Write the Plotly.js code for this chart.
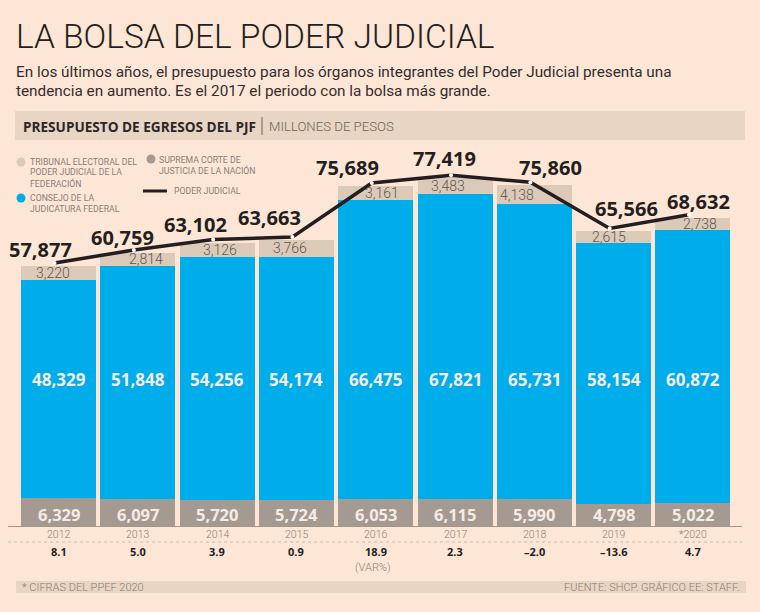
<!DOCTYPE html>
<html><head><meta charset="utf-8">
<script src="https://cdn.plot.ly/plotly-3.0.1.min.js"></script>
<style>html,body{margin:0;padding:0;background:#fde6d6;}</style>
</head><body><div id="chart" style="width:760px;height:612px;"></div>
<script>
// ---------- DATA ----------
const years = ['2012','2013','2014','2015','2016','2017','2018','2019','*2020'];
const suprema = [6329,6097,5720,5724,6053,6115,5990,4798,5022];
const consejo = [48329,51848,54256,54174,66475,67821,65731,58154,60872];
const tribunal = [3220,2814,3126,3766,3161,3483,4138,2615,2738];
const total = [57877,60759,63102,63663,75689,77419,75860,65566,68632];
const variacion = ['8.1','5.0','3.9','0.9','18.9','2.3','–2.0','–13.6','4.7'];

// ---------- STYLE / LAYOUT ----------
const BG='#fde6d6', BAND='#e8d5c3', BLUE='#00adeb', GRAY='#a59a91', BEIGE='#dccab9', DARK='#231f20', MUTED='#8a7f78';
const LIGHT='Roboto, sans-serif';
const NUM='Open Sans, sans-serif';
const W=760,H=612,ML=8,MR=18,MT=150,MB=86, PW=W-ML-MR, PH=H-MT-MB;
const fx=x=>(x-ML)/PW, fy=y=>(H-MB-y)/PH;
const YMAX=83700, XR=[-0.637,8.619];
const lineDy=668, lineDx=0.05;
const totalShiftX=[-18,-15,-22,-27,-28,-11,16,13,6];
const totalShiftY=[17,16,18,23,18,20,18,23,16];
const beigeShiftX=[-6,8,3,-6,6,-7,-17,-5,7];
const blueLabelY=32700, grayLabelY=2600;

const traces=[
 {type:'bar',x:years,y:suprema,marker:{color:GRAY,line:{width:0}},hoverinfo:'skip'},
 {type:'bar',x:years,y:consejo,marker:{color:BLUE,line:{width:0}},hoverinfo:'skip'},
 {type:'bar',x:years,y:tribunal,marker:{color:BEIGE,line:{width:0}},hoverinfo:'skip'},
 {type:'scatter',mode:'lines+markers',x:years,y:total,xaxis:'x2',yaxis:'y2',
  line:{color:DARK,width:3.5},marker:{color:'#ffffff',size:4,line:{width:0}},hoverinfo:'skip'}
];

function txt(x,y,text,size,color,opts){
  return Object.assign({xref:'paper',yref:'paper',x:fx(x),y:fy(y),text:text,showarrow:false,
    xanchor:'left',yanchor:'middle',font:{family:LIGHT,size:size,color:color}},opts||{});
}
const ann=[];
ann.push(txt(14,36,'LA BOLSA DEL PODER JUDICIAL',33.5,DARK,{font:{family:LIGHT,size:33.5,color:DARK,weight:300}}));
ann.push(txt(14,72,'En los últimos años, el presupuesto para los órganos integrantes del Poder Judicial presenta una',15.3,'#332d2e'));
ann.push(txt(14,91,'tendencia en aumento. Es el 2017 el periodo con la bolsa más grande.',15.3,'#332d2e'));
ann.push(txt(21,126,'<b>PRESUPUESTO DE EGRESOS DEL PJF</b>',13.6,'#2b2627',{font:{family:NUM,size:13.6,color:'#2b2627'}}));
ann.push(txt(267,126,'MILLONES DE PESOS',13.2,'#6e6560',{font:{family:LIGHT,size:13.2,color:'#6e6560',weight:300}}));
// legend
const legTxt=[[28,162,'TRIBUNAL ELECTORAL DEL'],[28,172,'PODER JUDICIAL DE LA'],[28,183,'FEDERACIÓN'],
 [28,198,'CONSEJO DE LA'],[28,209,'JUDICATURA FEDERAL'],
 [157,160,'SUPREMA CORTE DE'],[157,170,'JUSTICIA DE LA NACIÓN'],[172,191,'PODER JUDICIAL']];
legTxt.forEach(l=>ann.push(txt(l[0],l[1],l[2],8.7,MUTED)));
// bar labels
years.forEach((yr,i)=>{
  ann.push({xref:'x',yref:'y',x:i,y:grayLabelY,yanchor:'middle',text:'<b>'+suprema[i].toLocaleString('en-US')+'</b>',showarrow:false,
    font:{family:NUM,size:16.5,color:'#f4ece4'}});
  ann.push({xref:'x',yref:'y',x:i,y:blueLabelY,yanchor:'middle',text:'<b>'+consejo[i].toLocaleString('en-US')+'</b>',showarrow:false,
    font:{family:NUM,size:17,color:'#f4ece4'}});
  ann.push({xref:'x',yref:'y',x:i,y:suprema[i]+consejo[i]+tribunal[i]/2,yanchor:'middle',xshift:beigeShiftX[i],text:tribunal[i].toLocaleString('en-US'),showarrow:false,
    font:{family:LIGHT,size:14,color:'#5e5552',weight:300}});
  ann.push({xref:'x',yref:'y',x:i,y:total[i],yanchor:'middle',xshift:totalShiftX[i],yshift:totalShiftY[i],text:'<b>'+total[i].toLocaleString('en-US')+'</b>',showarrow:false,
    font:{family:NUM,size:20,color:DARK}});
  ann.push({xref:'x',yref:'paper',x:i,y:fy(534.5),yanchor:'middle',text:yr,showarrow:false,font:{family:LIGHT,size:10.5,color:MUTED,weight:300}});
  ann.push({xref:'x',yref:'paper',x:i,y:fy(551),yanchor:'middle',text:'<b>'+variacion[i]+'</b>',showarrow:false,font:{family:NUM,size:11,color:DARK}});
});
ann.push({xref:'x',yref:'paper',x:4,xshift:-3,y:fy(567),yanchor:'middle',text:'(VAR%)',showarrow:false,font:{family:LIGHT,size:11,color:MUTED,weight:300}});
ann.push(txt(20,587,'* CIFRAS DEL PPEF 2020',11,MUTED,{font:{family:LIGHT,size:11,color:MUTED,weight:300}}));
ann.push(txt(742,587,'FUENTE: SHCP. GRÁFICO EE: STAFF.',11,MUTED,{xanchor:'right',font:{family:LIGHT,size:11,color:MUTED,weight:300}}));

function rect(x0,y0,x1,y1,c){return {type:'rect',xref:'paper',yref:'paper',x0:fx(x0),x1:fx(x1),y0:fy(y0),y1:fy(y1),fillcolor:c,line:{width:0},layer:'below'};}
function circ(cx,cy,r,c){return {type:'circle',xref:'paper',yref:'paper',x0:fx(cx-r),x1:fx(cx+r),y0:fy(cy+r),y1:fy(cy-r),fillcolor:c,line:{width:0}};}
const shapes=[
 rect(15,111,745,140,BAND),
 {type:'line',xref:'paper',yref:'paper',x0:fx(262),x1:fx(262),y0:fy(117),y1:fy(135),line:{color:'#6e6560',width:1}},
 rect(16,581,746,593,BAND),
 {type:'line',xref:'paper',yref:'paper',x0:fx(8),x1:fx(742),y0:fy(542),y1:fy(542),line:{color:'#cdbcae',width:1,dash:'dot'}},
 circ(21,162,4.5,BEIGE), circ(21,198,4.5,BLUE), circ(151,159,4.5,GRAY),
 {type:'line',xref:'paper',yref:'paper',x0:fx(143),x1:fx(167),y0:fy(191),y1:fy(191),line:{color:DARK,width:3}}
];

const layout={
  width:W,height:H,margin:{l:ML,r:MR,t:MT,b:MB,pad:0},
  paper_bgcolor:BG,plot_bgcolor:BG,barmode:'stack',bargap:0.054,showlegend:false,
  font:{family:NUM,color:DARK},
  xaxis:{type:'category',range:XR,showgrid:false,zeroline:false,showline:true,linecolor:'#a29589',linewidth:1,
    ticks:'',showticklabels:false,fixedrange:true},
  yaxis:{range:[0,YMAX],showgrid:false,zeroline:false,showline:false,showticklabels:false,ticks:'',fixedrange:true},
  xaxis2:{type:'category',overlaying:'x',range:[XR[0]+lineDx,XR[1]+lineDx],visible:false,categoryarray:years},
  yaxis2:{overlaying:'y',range:[-lineDy,YMAX-lineDy],visible:false},
  annotations:ann,shapes:shapes
};
Plotly.newPlot('chart',traces,layout,{displayModeBar:false,staticPlot:true});
</script></body></html>
